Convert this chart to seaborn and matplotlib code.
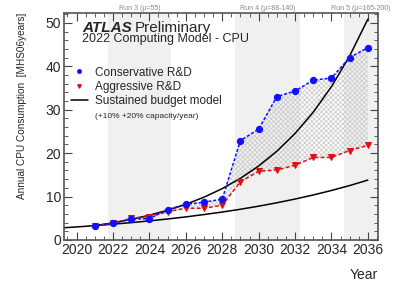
import numpy as np
import seaborn as sb
import pandas as pd
import matplotlib.pyplot as plt
from matplotlib.ticker import MultipleLocator

years = [2021, 2022, 2023, 2024, 2025, 2026, 2027, 2028,
         2029, 2030, 2031, 2032, 2033, 2034, 2035, 2036]
conservative = [3.2, 3.8, 4.8, 4.9, 7.0, 8.2, 8.7, 9.4,
                22.9, 25.5, 33.0, 34.3, 36.8, 37.3, 42.0, 44.3]
aggressive = [3.3, 3.8, 5.0, 5.4, 6.5, 7.3, 7.3, 8.0,
              13.4, 15.8, 16.1, 17.2, 19.0, 19.0, 20.6, 21.8]

budget_years = [2019, 2020, 2021, 2022, 2023, 2024, 2025, 2026, 2027,
                2028, 2029, 2030, 2031, 2032, 2033, 2034, 2035, 2036]
budget_10 = [2.73, 3.0, 3.3, 3.63, 3.99, 4.39, 4.83, 5.31, 5.85,
             6.43, 7.07, 7.78, 8.56, 9.42, 10.36, 11.39, 12.53, 13.79]
budget_20_years = budget_years[2:]
budget_20 = [3.3, 3.96, 4.75, 5.70, 6.84, 8.21, 9.85, 11.82,
             14.19, 17.03, 20.43, 24.52, 29.42, 35.31, 42.37, 50.84]

runs = ["Run 3 (μ=55)", "Run 4 (μ=88-140)", "Run 5 (μ=165-200)"]
run_start = [2021.7, 2028.7, 2034.7]
run_end = [2025.2, 2032.25, 2036.6]

sb.set_style("ticks")
plt.rcParams['font.family'] = ['Liberation Sans', 'DejaVu Sans']
plt.rcParams['hatch.linewidth'] = 0.6

fig = plt.figure(figsize=(3.99, 2.86), dpi=100)
ax = fig.add_axes([0.160, 0.161, 0.787, 0.794])

xmin, xmax = 2019.3, 2036.55
for name, a, b in zip(runs, run_start, run_end):
    ax.axvspan(a, min(b, xmax), color="#f0f0f0", lw=0, zorder=0)
    ax.text((a + min(b, xmax)) / 2, 52.6, name, ha="center", va="bottom",
            fontsize=5, color="#888888")

ax.fill_between(years, aggressive, conservative, facecolor="none",
                edgecolor="#cccccc", hatch="xxxxxxx", lw=0, zorder=1)

sb.lineplot(x=budget_years, y=budget_10, ax=ax, color="black", lw=1.1, zorder=2)
sb.lineplot(x=budget_20_years, y=budget_20, ax=ax, color="black", lw=1.1, zorder=2)

sb.lineplot(x=years, y=aggressive, ax=ax, color="#dd1111", lw=1.1,
            linestyle=(0, (2.5, 1.5)), marker="v", markersize=4.5,
            markeredgecolor="#dd1111", zorder=3)
sb.lineplot(x=years, y=conservative, ax=ax, color="#1010ff", lw=1.1,
            linestyle=(0, (2, 1.2)), marker="o", markersize=4.5,
            markeredgecolor="#1010ff", zorder=4)

ax.set_xlim(xmin, xmax)
ax.set_ylim(0, 52.3)
ax.xaxis.set_major_locator(MultipleLocator(2))
ax.xaxis.set_minor_locator(MultipleLocator(0.5))
ax.yaxis.set_major_locator(MultipleLocator(10))
ax.yaxis.set_minor_locator(MultipleLocator(2))
ax.tick_params(which="both", direction="in", top=True, right=True,
               color="#444444", labelsize=10, pad=2)
ax.tick_params(which="major", length=6)
ax.tick_params(which="minor", length=3)
ax.tick_params(axis="x", labeltop=False)
for s in ax.spines.values():
    s.set_color("#555555")
    s.set_linewidth(1.2)

ax.set_xlabel("Year", fontsize=10, loc="right", labelpad=8)
ax.set_ylabel("Annual CPU Consumption  [MHS06years]", fontsize=7.2,
              loc="top", labelpad=13)

atlas = ax.text(0.058, 0.965, "ATLAS", transform=ax.transAxes, fontsize=11,
                fontweight="bold", fontstyle="italic", va="top")
ax.annotate("Preliminary", xy=(1, 0), xycoords=atlas, xytext=(2, 0),
            textcoords="offset points", fontsize=11, va="bottom")
ax.text(0.058, 0.91, "2022 Computing Model - CPU", transform=ax.transAxes,
        fontsize=9, va="top")

ax.plot([], [], "o", color="#1010ff", markersize=2.5, label="Conservative R&D")
ax.plot([], [], "v", color="#dd1111", markersize=2.5, label="Aggressive R&D")
ax.plot([], [], "-", color="black", lw=1.1, label="Sustained budget model")
handles, labels = ax.get_legend_handles_labels()
handles, labels = handles[-3:], labels[-3:]
ax.legend(handles, labels, loc="upper left", bbox_to_anchor=(-0.005, 0.80),
          frameon=False, fontsize=8.5, handlelength=1.5, handletextpad=0.55,
          labelspacing=0.18, borderaxespad=0.3)
ax.text(0.1, 0.56, "(+10% +20% capacity/year)", transform=ax.transAxes,
        fontsize=6, va="top")

fig.savefig("out.png", dpi=100)
